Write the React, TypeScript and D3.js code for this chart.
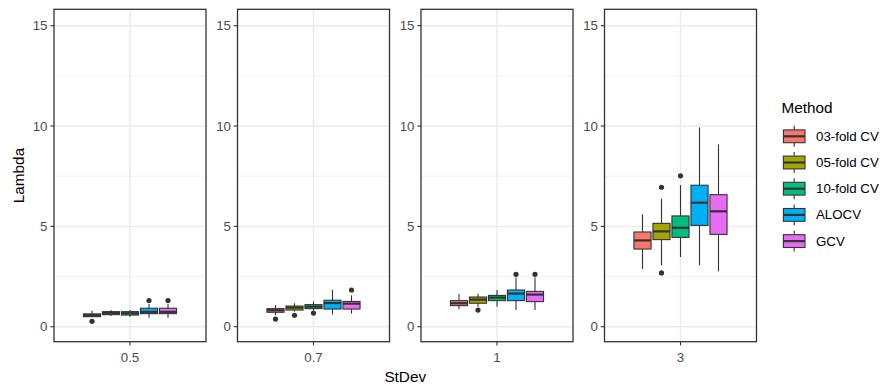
import React from "react";
import * as d3 from "d3";

// ---- data ----
const stdevLevels = ["0.5", "0.7", "1", "3"];
const methods = ["03-fold CV", "05-fold CV", "10-fold CV", "ALOCV", "GCV"];
const methodColors = ["#F8766D", "#A3A500", "#00BF7D", "#00B0F6", "#E76BF3"];
const yTicks = [0, 5, 10, 15];
const yMinor = [2.5, 7.5, 12.5];

// [lower whisker, q1, median, q3, upper whisker] per method
const statsSd05 = [
  [0.5, 0.5, 0.57, 0.64, 0.8],
  [0.53, 0.6, 0.68, 0.75, 0.83],
  [0.5, 0.58, 0.67, 0.75, 0.83],
  [0.45, 0.65, 0.74, 0.92, 1.13],
  [0.45, 0.65, 0.74, 0.92, 1.13],
];
const statsSd07 = [
  [0.58, 0.72, 0.82, 0.9, 1.08],
  [0.75, 0.83, 0.95, 1.03, 1.17],
  [0.82, 0.9, 1.0, 1.1, 1.25],
  [0.62, 0.88, 1.18, 1.32, 1.83],
  [0.65, 0.88, 1.15, 1.26, 1.56],
];
const statsSd1 = [
  [0.88, 1.05, 1.17, 1.3, 1.63],
  [1.0, 1.17, 1.35, 1.48, 1.66],
  [1.0, 1.3, 1.45, 1.56, 1.83],
  [0.83, 1.3, 1.65, 1.83, 2.45],
  [0.83, 1.25, 1.6, 1.76, 2.45],
];
const statsSd3 = [
  [2.87, 3.87, 4.3, 4.72, 5.6],
  [3.06, 4.34, 4.75, 5.15, 6.38],
  [3.47, 4.45, 4.93, 5.52, 7.06],
  [3.06, 5.05, 6.18, 7.05, 9.93],
  [2.76, 4.6, 5.75, 6.58, 9.09],
];
const panelStats = [statsSd05, statsSd07, statsSd1, statsSd3];

// outliers: [panel index, method index, value]
const outliers: [number, number, number][] = [
  [0, 0, 0.27],
  [0, 3, 1.3],
  [0, 4, 1.3],
  [1, 0, 0.38],
  [1, 1, 0.57],
  [1, 2, 0.68],
  [1, 4, 1.83],
  [2, 1, 0.83],
  [2, 3, 2.61],
  [2, 4, 2.61],
  [3, 1, 6.95],
  [3, 1, 2.68],
  [3, 2, 7.52],
];

// ---- layout ----
const W = 886;
const H = 389;
const panelTop = 9.3;
const panelBottom = 341.7;
const panelWidth = 152;
const firstLeft = 54;
const panelStep = 183.5;
const FONT = "'Liberation Sans', Arial, sans-serif";
const DARK = "#333333";
const TXT = "#4D4D4D";

const y = d3.scaleLinear().domain([-0.747, 15.817]).range([panelBottom, panelTop]);
const panelLeft = (i: number) => firstLeft + i * panelStep;

export default function App() {
  const boxW = 0.15 * 0.9;
  return (
    <svg width={W} height={H} style={{ display: "block", position: "absolute", left: 0, top: 0 }}>
      <rect x={0} y={0} width={W} height={H} fill="#FFFFFF" />
      {stdevLevels.map((lvl, p) => {
        const left = panelLeft(p);
        const x = d3.scaleLinear().domain([0.4, 1.6]).range([left, left + panelWidth]);
        const stats = panelStats[p];
        return (
          <g key={lvl}>
            {/* grid */}
            {yMinor.map((v) => (
              <line key={"mi" + v} x1={left} x2={left + panelWidth} y1={y(v)} y2={y(v)} stroke="#EBEBEB" strokeWidth={0.7} />
            ))}
            {yTicks.map((v) => (
              <line key={"ma" + v} x1={left} x2={left + panelWidth} y1={y(v)} y2={y(v)} stroke="#EBEBEB" strokeWidth={1.4} />
            ))}
            <line x1={x(1)} x2={x(1)} y1={panelTop} y2={panelBottom} stroke="#EBEBEB" strokeWidth={1.4} />
            {/* boxes */}
            {stats.map((s, m) => {
              const cx = x(1 + (m - 2) * 0.15);
              const bx0 = x(1 + (m - 2) * 0.15 - boxW / 2);
              const bx1 = x(1 + (m - 2) * 0.15 + boxW / 2);
              const [lo, q1, med, q3, hi] = s;
              return (
                <g key={m}>
                  <line x1={cx} x2={cx} y1={y(hi)} y2={y(q3)} stroke={DARK} strokeWidth={1.1} />
                  <line x1={cx} x2={cx} y1={y(q1)} y2={y(lo)} stroke={DARK} strokeWidth={1.1} />
                  <rect x={bx0} y={y(q3)} width={bx1 - bx0} height={y(q1) - y(q3)} fill={methodColors[m]} stroke={DARK} strokeWidth={1.1} />
                  <line x1={bx0} x2={bx1} y1={y(med)} y2={y(med)} stroke={DARK} strokeWidth={2.2} />
                </g>
              );
            })}
            {outliers
              .filter((o) => o[0] === p)
              .map((o, k) => (
                <circle key={"o" + k} cx={x(1 + (o[1] - 2) * 0.15)} cy={y(o[2])} r={2.6} fill={DARK} />
              ))}
            {/* border */}
            <rect x={left} y={panelTop} width={panelWidth} height={panelBottom - panelTop} fill="none" stroke={DARK} strokeWidth={1.3} />
            {/* y axis */}
            {yTicks.map((v) => (
              <g key={"yt" + v}>
                <line x1={left - 3.7} x2={left} y1={y(v)} y2={y(v)} stroke={DARK} strokeWidth={1.1} />
                <text x={left - 6.5} y={y(v)} textAnchor="end" dominantBaseline="central" fontFamily={FONT} fontSize={13.3} fill={TXT}>
                  {v}
                </text>
              </g>
            ))}
            {/* x axis */}
            <line x1={x(1)} x2={x(1)} y1={panelBottom} y2={panelBottom + 3.7} stroke={DARK} strokeWidth={1.1} />
            <text x={x(1)} y={357} textAnchor="middle" dominantBaseline="central" fontFamily={FONT} fontSize={13.3} fill={TXT}>
              {lvl}
            </text>
          </g>
        );
      })}
      {/* axis titles */}
      <text x={(firstLeft + panelLeft(3) + panelWidth) / 2} y={376} textAnchor="middle" dominantBaseline="central" fontFamily={FONT} fontSize={15.3} fill="#000">
        StDev
      </text>
      <text transform={`translate(18, ${(panelTop + panelBottom) / 2}) rotate(-90)`} textAnchor="middle" dominantBaseline="central" fontFamily={FONT} fontSize={15.3} fill="#000">
        Lambda
      </text>
      {/* legend */}
      <text x={781.5} y={107.3} dominantBaseline="central" fontFamily={FONT} fontSize={15.3} fill="#000">
        Method
      </text>
      {methods.map((mName, i) => {
        const cy = 136.3 + i * 26.2;
        const cx = 794.2;
        return (
          <g key={mName}>
            <line x1={cx} x2={cx} y1={cy - 10.5} y2={cy - 6.4} stroke={DARK} strokeWidth={1.1} />
            <line x1={cx} x2={cx} y1={cy + 6.4} y2={cy + 10.5} stroke={DARK} strokeWidth={1.1} />
            <rect x={cx - 10.8} y={cy - 6.4} width={21.6} height={12.8} fill={methodColors[i]} stroke={DARK} strokeWidth={1.1} />
            <line x1={cx - 10.8} x2={cx + 10.8} y1={cy} y2={cy} stroke={DARK} strokeWidth={2.2} />
            <text x={816} y={cy} dominantBaseline="central" fontFamily={FONT} fontSize={13.3} fill="#000">
              {mName}
            </text>
          </g>
        );
      })}
    </svg>
  );
}
